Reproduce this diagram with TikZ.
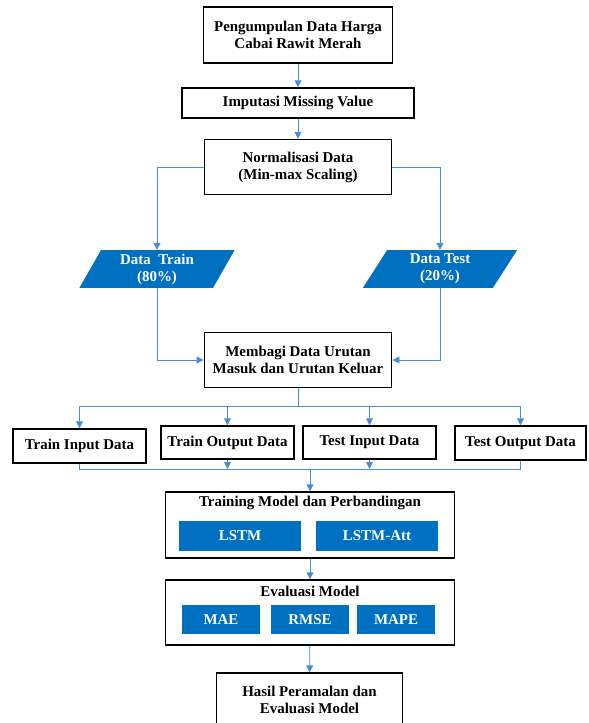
\documentclass[tikz,border=0pt]{standalone}
\usepackage{fontspec}
\setmainfont{Liberation Serif}
\usetikzlibrary{arrows.meta,shapes.geometric}
\definecolor{biru}{RGB}{0,112,192}
\definecolor{garisbiru}{RGB}{75,140,215}
\newcommand{\panah}{\draw[-{Triangle[length=7bp,width=7bp]},line width=0.9pt,garisbiru]}
\newcommand{\garis}{\draw[line width=0.9pt,garisbiru]}
\tikzset{
  kotak/.style={draw=black,line width=1.6pt,fill=white,align=center,inner sep=0pt},
  kotakbiru/.style={fill=biru,text=white,align=center,inner sep=0pt},
  jajar/.style={trapezium,trapezium left angle=65,trapezium right angle=115,
    trapezium stretches=true,fill=biru,text=white,align=center,inner sep=0pt}
}

\begin{document}
\begin{tikzpicture}[x=1bp,y=-1bp,font=\fontsize{15}{17}\selectfont\bfseries]
      \useasboundingbox (0,0) rectangle (589,723);
      % tahap awal
      \node(kumpul)   [kotak,minimum width=190,minimum height=56] at (298,35)
            {Pengumpulan Data Harga\\Cabai Rawit Merah};
      \node(imputasi) [kotak,minimum width=233,minimum height=30] at (298,103)
            {Imputasi Missing Value};
      \node(normal)   [kotak,minimum width=188,minimum height=55] at (298,167)
            {Normalisasi Data\\(Min-max Scaling)};

      \panah(kumpul) -- (imputasi);
      \panah(imputasi) -- (normal);

      % pembagian data
      \node(train) [jajar,minimum width=156,minimum height=38] at (157,269)
            {Data~ Train\\(80\%)};
      \node(test)  [jajar,minimum width=156,minimum height=38] at (440,269)
            {Data Test\\(20\%)};
      \node(bagi)  [kotak,minimum width=188,minimum height=55] at (298,360)
            {Membagi Data Urutan\\Masuk dan Urutan Keluar};

      \panah(normal.west) -| (train.north);
      \panah(normal.east) -| (test.north);
      \panah(train.south) |- (bagi.west);
      \panah(test.south) |- (bagi.east);

      % data masukan dan keluaran
      \node(tin)   [kotak,minimum width=134,minimum height=34] at (79.5,446)   {Train Input Data};
      \node(tout)  [kotak,minimum width=134,minimum height=33] at (227.5,442.5) {Train Output Data};
      \node(tsin)  [kotak,minimum width=134,minimum height=33] at (369.5,442.5) {Test Input Data};
      \node(tsout) [kotak,minimum width=131,minimum height=34] at (520.5,443)   {Test Output Data};
      \coordinate(atas)  at (298,406);
      \coordinate(bawah) at (310,469);

      \garis(bagi.south) -- (atas);
      \panah(atas) -| (tin.north);
      \panah(atas) -| (tout.north);
      \panah(atas) -| (tsin.north);
      \panah(atas) -| (tsout.north);
      \garis(tin.south) |- (bawah);
      \garis(tsout.south) |- (bawah);
      \panah(tout.south) -- (tout.south |- bawah);
      \panah(tsin.south) -- (tsin.south |- bawah);

      % pelatihan model
      \node(latih) [kotak,minimum width=290,minimum height=66] at (310,525) {};
      \node(judullatih) at (310,503) {Training Model dan Perbandingan};
      \node(lstm)    [kotakbiru,minimum width=122,minimum height=30] at (240,536) {LSTM};
      \node(lstmatt) [kotakbiru,minimum width=122,minimum height=30] at (377,536) {LSTM-Att};

      \panah(bawah) -- (latih.north);

      % evaluasi
      \node(eval) [kotak,minimum width=290,minimum height=65] at (310,612.5) {};
      \node(judileval) at (310,591) {Evaluasi Model};
      \node(mae)  [kotakbiru,minimum width=78,minimum height=29] at (221,619.5) {MAE};
      \node(rmse) [kotakbiru,minimum width=78,minimum height=29] at (310,619.5) {RMSE};
      \node(mape) [kotakbiru,minimum width=78,minimum height=29] at (396,619.5) {MAPE};

      \panah(latih) -- (eval);

      % hasil
      \node(hasil) [kotak,minimum width=187,minimum height=54] at (309.5,700)
            {Hasil Peramalan dan\\Evaluasi Model};

      \panah(eval) -- (hasil);
\end{tikzpicture}
\end{document}
